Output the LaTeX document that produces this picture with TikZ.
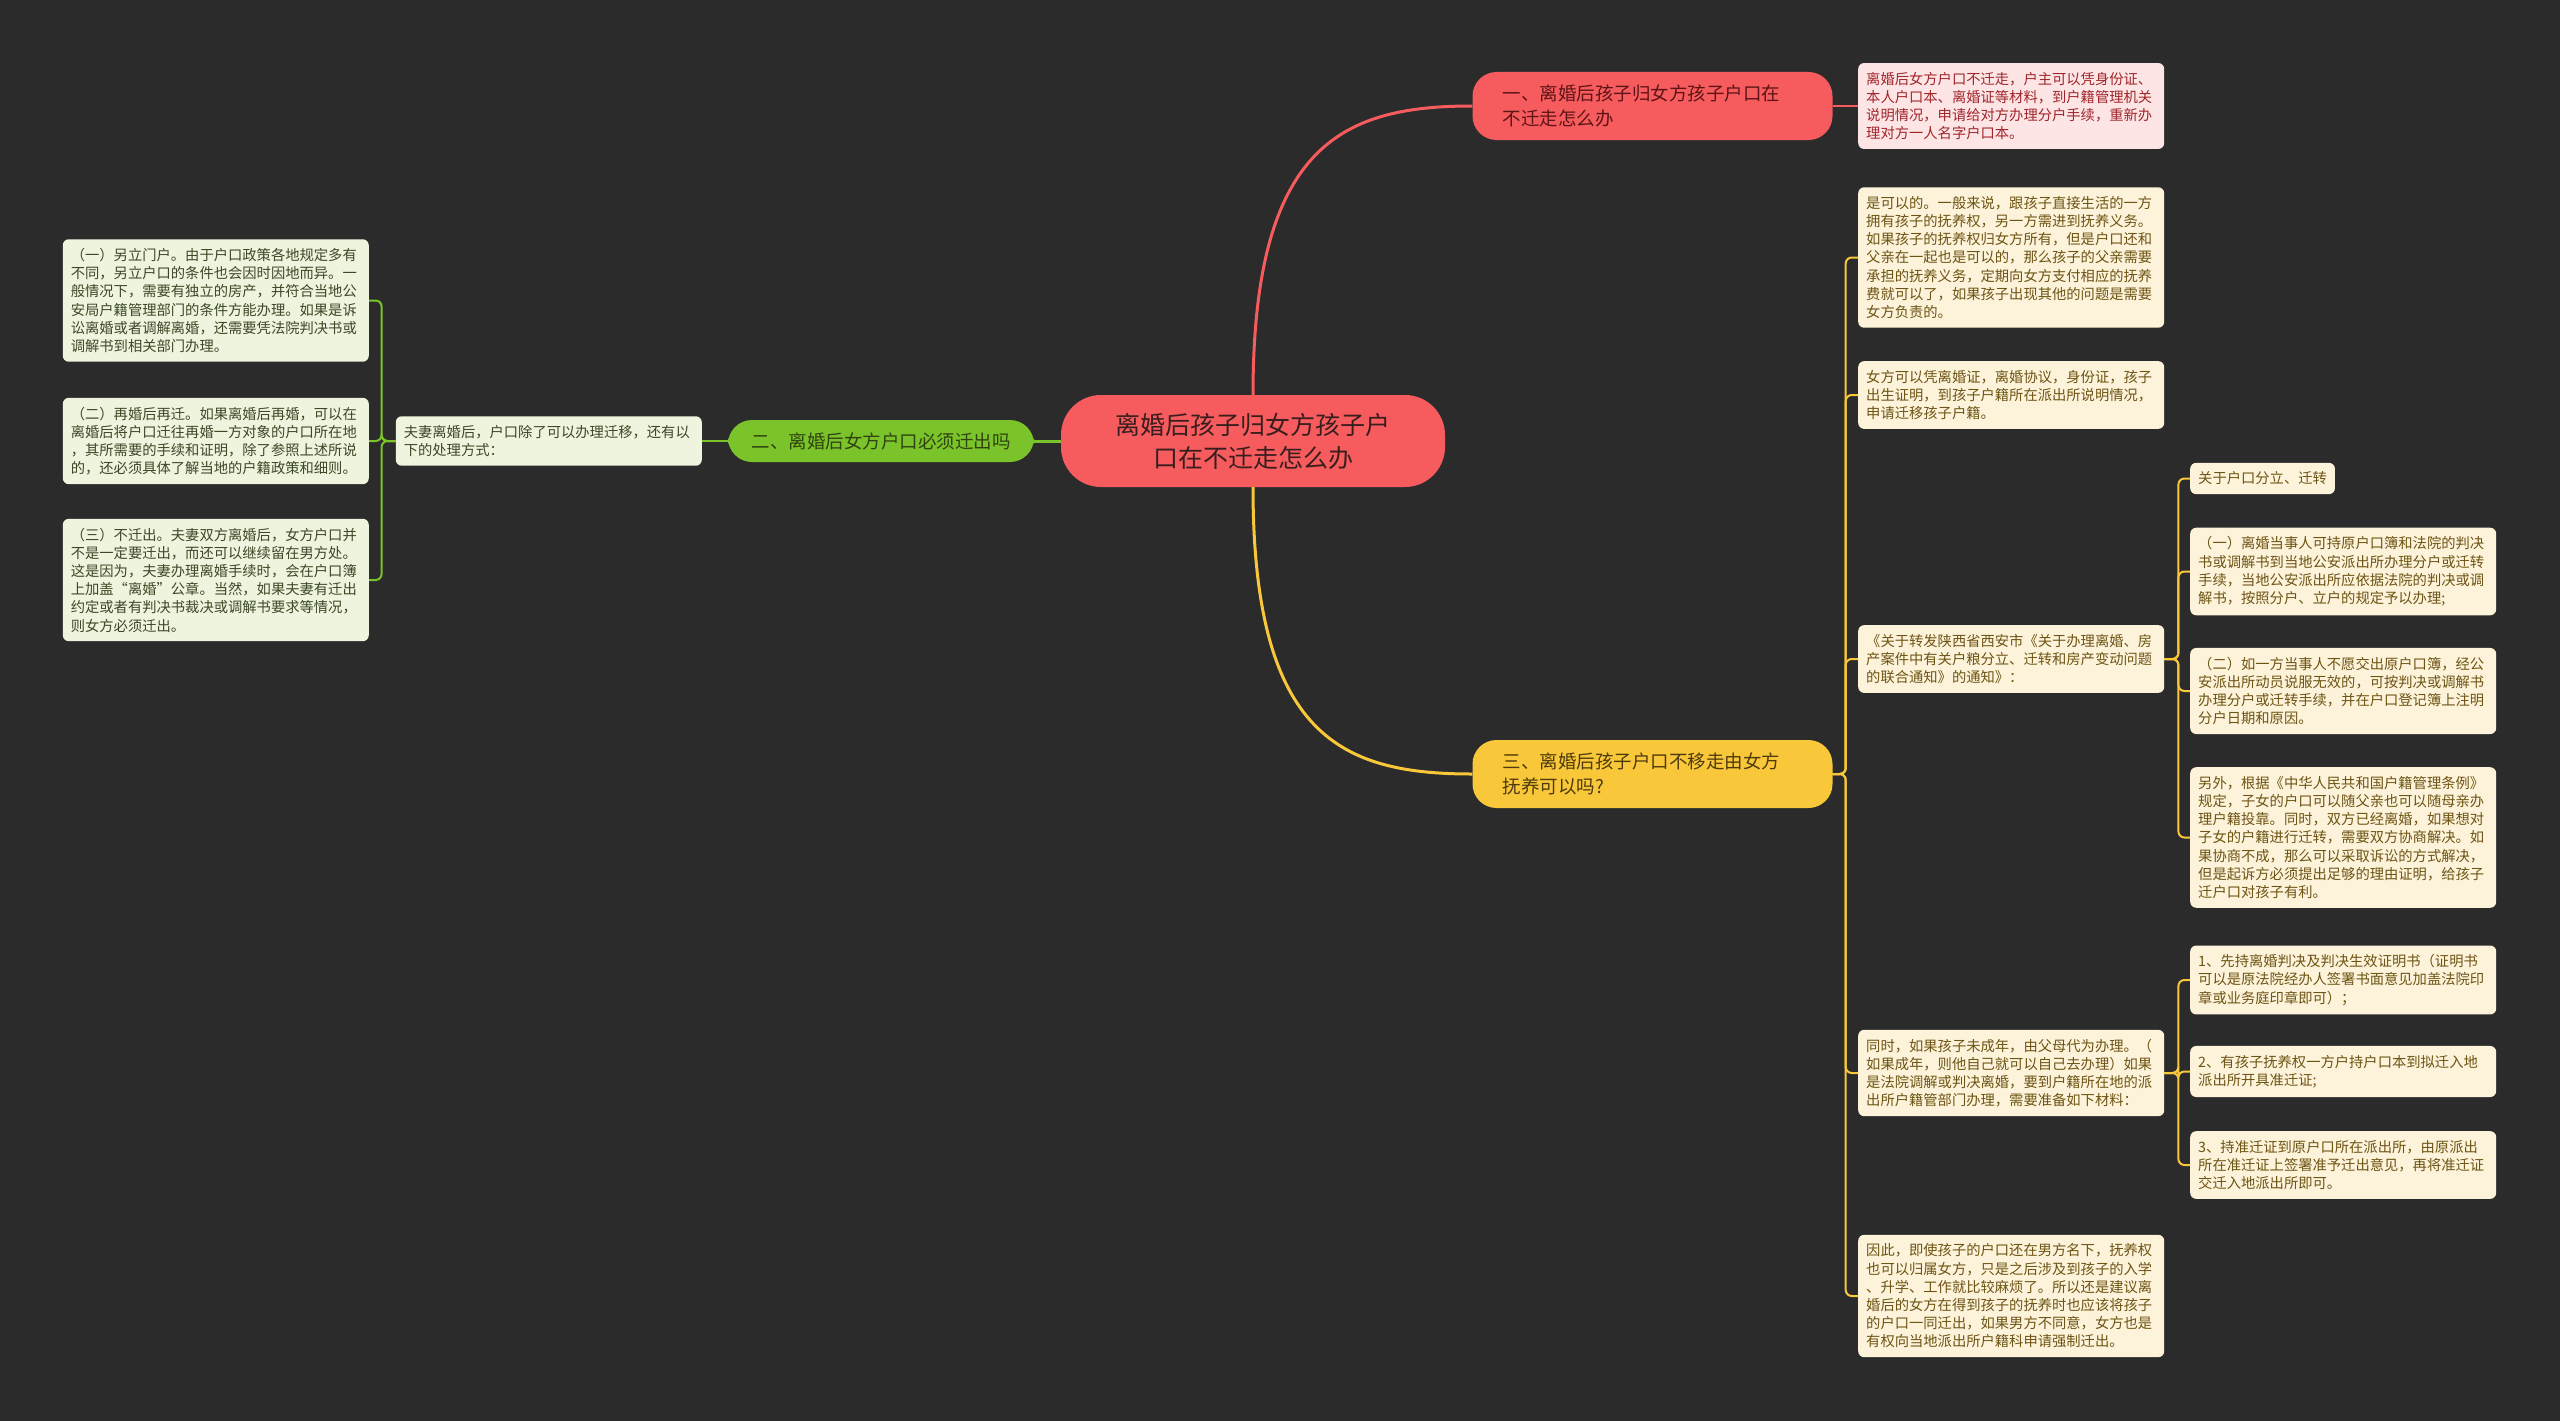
\documentclass[tikz,border=0pt]{standalone}
\usepackage{fontspec}
\setmainfont{Noto Sans CJK SC}
\usetikzlibrary{calc}
\definecolor{cbg}{HTML}{2B2B2B}
\definecolor{rmain}{HTML}{F65B5E}
\definecolor{rdark}{HTML}{5E1416}
\definecolor{rfill}{HTML}{FDE4E5}
\definecolor{rtext}{HTML}{A0262B}
\definecolor{gmain}{HTML}{7BC32B}
\definecolor{gdark}{HTML}{2F430E}
\definecolor{gfill}{HTML}{EEF4DE}
\definecolor{gtext}{HTML}{3C4826}
\definecolor{ymain}{HTML}{F9C83A}
\definecolor{ydark}{HTML}{4E3A0C}
\definecolor{yfill}{HTML}{FCF3DA}
\definecolor{ytext}{HTML}{6E5414}
\definecolor{rootink}{HTML}{3A1E1E}
\tikzset{
  every picture/.style={x=1pt, y=-1pt},
  root/.style={fill=rmain, text=rootink, rounded corners=40pt, align=center,
    minimum width=384pt, minimum height=92pt, font=\fontsize{25}{33}\selectfont},
  topic/.style={fill=#1main, text=#1dark, rounded corners=24pt, align=left,
    text width=300pt, inner xsep=30pt, inner ysep=9pt, minimum height=68pt,
    font=\fontsize{18.5}{24.5}\selectfont},
  leaf/.style={fill=#1fill, text=#1text, rounded corners=6pt, align=left,
    inner xsep=8pt, inner ysep=9pt, font=\fontsize{14.3}{18.2}\selectfont},
  leafbox/.style={leaf=#1, text width=290pt},
  link/.style={draw=#1, line width=3pt},
  sublink/.style={draw=#1, line width=2pt, rounded corners=6pt},
}
\begin{document}
\begin{tikzpicture}
  \fill[cbg] (0,0) rectangle (2560,1421);
  % ---- root ----
  \node[root] (root) at (1253,441) {离婚后孩子归女方孩子户\\口在不迁走怎么办};
  % ---- branch one (red) ----
  \node[topic=r] (t1) at (1652.5,106) {一、离婚后孩子归女方孩子户口在\\不迁走怎么办};
  \node[leafbox=r, anchor=west] (r1) at (1858,106) {离婚后女方户口不迁走，户主可以凭身份证、\\本人户口本、离婚证等材料，到户籍管理机关\\说明情况，申请给对方办理分户手续，重新办\\理对方一人名字户口本。};
  % ---- branch two (green) ----
  \node[topic=g, text width=260pt, inner xsep=23pt, align=center, minimum height=42pt] (t2) at (881,441) {二、离婚后女方户口必须迁出吗};
  \node[leafbox=g, anchor=east] (gm) at (702,441) {夫妻离婚后，户口除了可以办理迁移，还有以\\下的处理方式：};
  \node[leafbox=g, anchor=east] (g1) at (369,300.5) {（一）另立门户。由于户口政策各地规定多有\\不同，另立户口的条件也会因时因地而异。一\\般情况下，需要有独立的房产，并符合当地公\\安局户籍管理部门的条件方能办理。如果是诉\\讼离婚或者调解离婚，还需要凭法院判决书或\\调解书到相关部门办理。};
  \node[leafbox=g, anchor=east] (g2) at (369,441) {（二）再婚后再迁。如果离婚后再婚，可以在\\离婚后将户口迁往再婚一方对象的户口所在地\\，其所需要的手续和证明，除了参照上述所说\\的，还必须具体了解当地的户籍政策和细则。};
  \node[leafbox=g, anchor=east] (g3) at (369,580) {（三）不迁出。夫妻双方离婚后，女方户口并\\不是一定要迁出，而还可以继续留在男方处。\\这是因为，夫妻办理离婚手续时，会在户口簿\\上加盖“离婚”公章。当然，如果夫妻有迁出\\约定或者有判决书裁决或调解书要求等情况，\\则女方必须迁出。};
  % ---- branch three (yellow) ----
  \node[topic=y] (t3) at (1652.5,774) {三、离婚后孩子户口不移走由女方\\抚养可以吗?};
  \node[leafbox=y, anchor=west] (y1) at (1858,257.5) {是可以的。一般来说，跟孩子直接生活的一方\\拥有孩子的抚养权，另一方需进到抚养义务。\\如果孩子的抚养权归女方所有，但是户口还和\\父亲在一起也是可以的，那么孩子的父亲需要\\承担的抚养义务，定期向女方支付相应的抚养\\费就可以了，如果孩子出现其他的问题是需要\\女方负责的。};
  \node[leafbox=y, anchor=west] (y2) at (1858,395) {女方可以凭离婚证，离婚协议，身份证，孩子\\出生证明，到孩子户籍所在派出所说明情况，\\申请迁移孩子户籍。};
  \node[leafbox=y, anchor=west] (y3) at (1858,659) {《关于转发陕西省西安市《关于办理离婚、房\\产案件中有关户粮分立、迁转和房产变动问题\\的联合通知》的通知》：};
  \node[leafbox=y, anchor=west] (y4) at (1858,1073) {同时，如果孩子未成年，由父母代为办理。（\\如果成年，则他自己就可以自己去办理）如果\\是法院调解或判决离婚，要到户籍所在地的派\\出所户籍管部门办理，需要准备如下材料：};
  \node[leafbox=y, anchor=west] (y5) at (1858,1296) {因此，即使孩子的户口还在男方名下，抚养权\\也可以归属女方，只是之后涉及到孩子的入学\\、升学、工作就比较麻烦了。所以还是建议离\\婚后的女方在得到孩子的抚养时也应该将孩子\\的户口一同迁出，如果男方不同意，女方也是\\有权向当地派出所户籍科申请强制迁出。};
  \node[leaf=y, anchor=west] (s1) at (2190,478.5) {关于户口分立、迁转};
  \node[leafbox=y, anchor=west] (s2) at (2190,571.5) {（一）离婚当事人可持原户口簿和法院的判决\\书或调解书到当地公安派出所办理分户或迁转\\手续，当地公安派出所应依据法院的判决或调\\解书，按照分户、立户的规定予以办理;};
  \node[leafbox=y, anchor=west] (s3) at (2190,691) {（二）如一方当事人不愿交出原户口簿，经公\\安派出所动员说服无效的，可按判决或调解书\\办理分户或迁转手续，并在户口登记簿上注明\\分户日期和原因。};
  \node[leafbox=y, anchor=west] (s4) at (2190,837.5) {另外，根据《中华人民共和国户籍管理条例》\\规定，子女的户口可以随父亲也可以随母亲办\\理户籍投靠。同时，双方已经离婚，如果想对\\子女的户籍进行迁转，需要双方协商解决。如\\果协商不成，那么可以采取诉讼的方式解决，\\但是起诉方必须提出足够的理由证明，给孩子\\迁户口对孩子有利。};
  \node[leafbox=y, anchor=west] (u1) at (2190,980) {1、先持离婚判决及判决生效证明书（证明书\\可以是原法院经办人签署书面意见加盖法院印\\章或业务庭印章即可）；};
  \node[leafbox=y, anchor=west] (u2) at (2190,1071.5) {2、有孩子抚养权一方户持户口本到拟迁入地\\派出所开具准迁证;};
  \node[leafbox=y, anchor=west] (u3) at (2190,1165) {3、持准迁证到原户口所在派出所，由原派出\\所在准迁证上签署准予迁出意见，再将准迁证\\交迁入地派出所即可。};
  % ---- connectors ----
  \draw[link=rmain] (root.north) .. controls ($(root.north)+(0,-250)$) and ($(t1.west)+(-130,0)$) .. (t1.west);
  \draw[link=ymain] (root.south) .. controls ($(root.south)+(0,250)$) and ($(t3.west)+(-130,0)$) .. (t3.west);
  \draw[link=gmain] (root.west) -- (t2.east);
  \draw[sublink=rmain] (t1.east) -- (r1.west);
  \draw[sublink=gmain] (t2.west) -- (gm.east);
  \foreach \n in {g1,g2,g3}
    \draw[sublink=gmain] (gm.west) -- ++(-14,0) |- (\n.east);
  \foreach \n in {y1,y2,y3,y4,y5}
    \draw[sublink=ymain] (t3.east) -- ++(13,0) |- (\n.west);
  \foreach \n in {s1,s2,s3,s4}
    \draw[sublink=ymain] (y3.east) -- ++(14,0) |- (\n.west);
  \foreach \n in {u1,u2,u3}
    \draw[sublink=ymain] (y4.east) -- ++(14,0) |- (\n.west);
\end{tikzpicture}
\end{document}
